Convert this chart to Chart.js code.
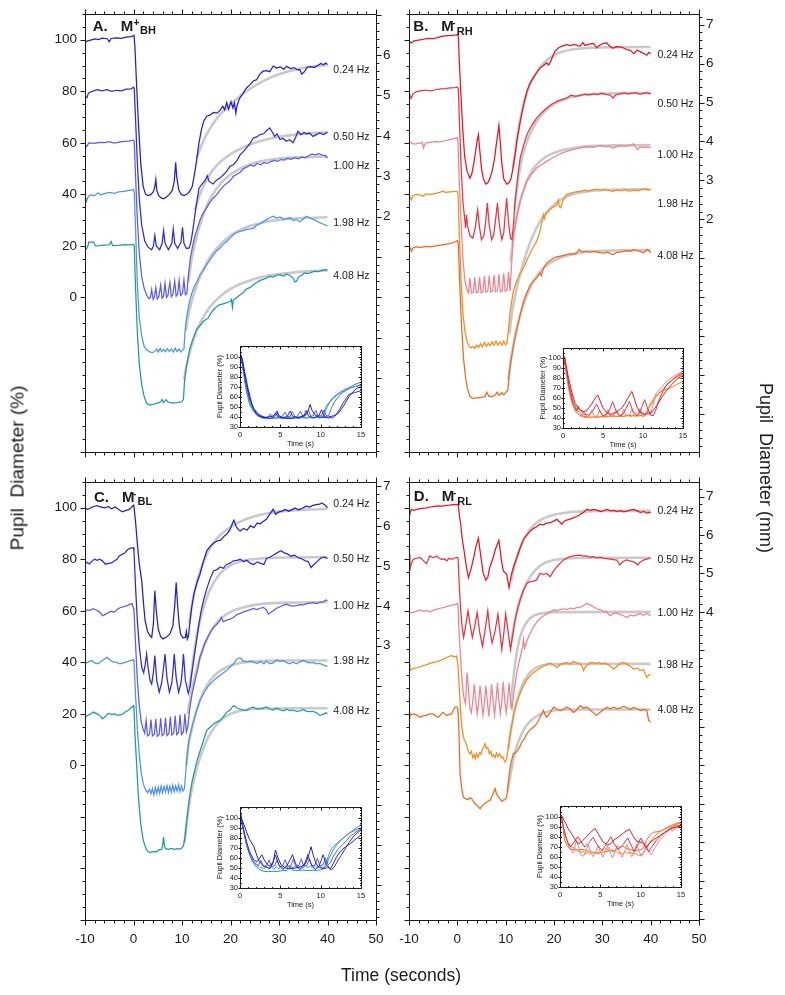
<!DOCTYPE html>
<html>
<head>
<meta charset="utf-8">
<script src="https://cdn.jsdelivr.net/npm/chart.js@4.4.1/dist/chart.umd.min.js"></script>
<style>
  body { margin: 0; background: #fff; }
  #page { position: relative; width: 785px; height: 995px; overflow: hidden;
          font-family: "Liberation Sans", Arial, sans-serif; color: #1a1a1a; }
  #page canvas { position: absolute; left: 0; top: 0; }
  .big { position: absolute; font-size: 18px; line-height: 1; white-space: pre; }
</style>
</head>
<body>
<div id="page">
  <canvas id="cA" width="785" height="995"></canvas>
  <canvas id="cB" width="785" height="995"></canvas>
  <canvas id="cC" width="785" height="995"></canvas>
  <canvas id="cD" width="785" height="995"></canvas>
  <canvas id="iA" width="785" height="995"></canvas>
  <canvas id="iB" width="785" height="995"></canvas>
  <canvas id="iC" width="785" height="995"></canvas>
  <canvas id="iD" width="785" height="995"></canvas>
  <div class="big" style="left:17px;top:468px;font-size:19px;transform:translate(-50%,-50%) rotate(-90deg)">Pupil  Diameter (%)</div>
  <div class="big" style="left:766px;top:468px;transform:translate(-50%,-50%) rotate(90deg)">Pupil  Diameter (mm)</div>
  <div class="big" style="left:401px;top:976px;font-size:17.5px;transform:translate(-50%,-50%)">Time (seconds)</div>
</div>
<script>
const W = 785, H = 995;
const FONT = '"Liberation Sans", Arial, sans-serif';

/* ---------- axes / labels ---------- */
const freqs = ['0.24 Hz', '0.50 Hz', '1.00 Hz', '1.98 Hz', '4.08 Hz'];
const traceOffsets = [0, 20, 40, 60, 80];   // stacking shift of each trace in the big panels
const timeTicks = [-10, 0, 10, 20, 30, 40, 50];
const pctTicks = [-60, -40, -20, 0, 20, 40, 60, 80, 100];
const pctLabels = [0, 20, 40, 60, 80, 100];
const insetTimeTicks = [0, 5, 10, 15];
const insetPctTicks = [30, 40, 50, 60, 70, 80, 90, 100];

// mm of pupil per 100 % for each subject, and which mm ticks carry a number
const mmPer100 = { A: 6.38, B: 6.61, C: 6.46, D: 6.71 };
const mmLabelsA = [2, 3, 4, 5, 6];
const mmLabelsB = [2, 3, 4, 5, 6, 7];
const mmLabelsC = [3, 4, 5, 6, 7];
const mmLabelsD = [4, 5, 6, 7];

// where the frequency labels sit (% axis)
const labelYA = [88.2, 62.1, 50.9, 28.7, 8.3];
const labelYB = [94, 75.1, 55.4, 36.4, 15.9];
const labelYC = [101.3, 80, 62, 40.4, 21];
const labelYD = [98.7, 79.8, 59.1, 39.1, 21.6];

const blues = ['#2020cc', '#2b2bd8', '#5c5ce8', '#4d93ea', '#1c9aa2'];
const reds = ['#e8141f', '#e8343f', '#f2808e', '#f58c1a', '#f2661c'];
const fitColor = '#c9c9c9';

/* ---------- panel A : M+BH ---------- */
const A024 = [[-10,98.8],[-9.6,99.5],[-9,99.8],[-8,100.3],[-7.2,100.1],[-6.5,100.6],[-5.4,100.4],[-5,99.2],[-4.6,100.5],[-3.5,100.7],[-2.5,100.5],[-1.5,101],[-0.5,101.2],[0,101.5],[0.1,102],
  [0.3,97],[0.6,84],[1,68],[1.5,52],[2,43],[2.5,40],[3,39.5],[3.5,39.8],[4.1,41],[4.4,43],[4.6,45.8],[4.8,41.5],[5.2,39.5],[5.7,38.6],[6.2,38.3],[6.8,39],[7.4,40],[8,41.5],[8.4,45],[8.7,52.4],[8.9,47],[9.3,42],[9.8,40],[10.4,39.5],[11,40],[11.6,41.2],[12.1,43],[12.5,47],[13,53],[13.5,60],[14,65],[14.5,68.5],[15.1,70.3],[15.8,70.8],[16.5,71.8],[17.2,71.5],[17.8,72.5],[18.4,74.2],[18.8,72.8],[19.2,75.6],[19.6,73],[20.1,76],[20.5,73.5],[20.8,75.5],[21.1,71.5],[21.3,74],[21.8,77],[22.5,79],[23.3,81.3],[24,82.5],[24.7,84],[25.4,84.5],[26,86.5],[26.7,87.8],[27.4,88],[28.1,87.6],[28.8,89.8],[29.5,89],[30.2,89.5],[31,88.6],[31.6,89.7],[32.3,88.8],[33.1,89.2],[33.8,88.3],[34.3,88.4],[34.7,86.6],[35.2,87.5],[35.8,89.3],[36.5,89.6],[37.3,89.2],[38,90],[38.6,90.8],[39.2,90.3],[39.6,91],[40,90.4]];
const A050 = [[-10,78.1],[-9.6,77.5],[-9.3,79.3],[-8.5,80],[-7.5,80.6],[-6.5,80.2],[-5.5,80.6],[-4.5,80],[-3.5,80.4],[-2.5,80.2],[-1.5,80.8],[-0.5,80.9],[0,81.6],[0.15,81],
  [0.4,70],[0.8,52],[1.2,38],[1.7,28],[2.3,22],[3,19.5],[3.75,18.5],[4.1,20],[4.4,24],[4.7,20],[5.4,18.5],[5.9,21],[6.2,25.9],[6.5,21],[7.2,18.5],[7.9,21],[8.2,26.5],[8.5,21],[9.1,19],[9.8,21.5],[10.1,27.2],[10.4,21],[10.9,19],[11.5,19.2],[11.9,22],[12.3,27],[12.8,34],[13.5,42.4],[14.2,44.2],[14.8,45.5],[15.2,47.2],[15.6,45],[16.4,44],[17.1,45.5],[17.8,46.3],[18.5,47.5],[19.2,48.9],[19.9,50.9],[20.6,51.5],[21.3,53],[22,55.4],[22.6,56.5],[23.3,58],[24,59.7],[24.7,61.9],[25.4,62.3],[26.1,63.2],[26.8,63.5],[27.4,64.7],[28.1,65.8],[28.6,64.2],[29.1,62.5],[29.6,63.5],[30.2,61.3],[30.8,61.8],[31.5,60.6],[32.2,61.2],[32.9,60],[33.4,62],[33.9,64.5],[34.5,63.2],[35.2,64],[35.6,63.4],[36.3,63.8],[37,62.5],[37.7,63.2],[38.4,63.8],[39.2,63.2],[40,64.1]];
const A100 = [[-10,59.3],[-9.7,58.5],[-9.2,60],[-8,59.8],[-7,60.2],[-6,60.1],[-5,60.5],[-4,59.9],[-3,60.3],[-2,60.6],[-1,60.7],[0,61],[0.15,60.5],
  [0.4,48],[0.8,30],[1.2,17],[1.7,8],[2.2,3.5],[2.7,1],[3.2,-0.5],[3.5,0],[3.75,3],[4.05,-0.8],[4.3,0],[4.6,3.8],[4.9,-0.6],[5.2,0.2],[5.6,4.8],[5.9,-0.3],[6.2,0.5],[6.5,5.4],[6.8,0],[7.1,0.8],[7.5,5.8],[7.8,0.2],[8.1,1],[8.5,6.3],[8.8,0.5],[9.1,1.2],[9.4,6.6],[9.7,0.8],[10.1,1.5],[10.4,6.8],[10.7,1],[11,1.5],[11.3,8],[11.7,15],[12.2,20],[12.7,24],[13.2,27],[13.7,30],[14.3,32.5],[15,34.5],[15.6,36.5],[16.4,38.5],[17.2,40],[18,42],[18.7,43.5],[19.4,44.5],[20,45.5],[20.6,47],[21.3,47.8],[22,48.6],[22.7,50],[23.4,50.6],[24.1,51.4],[24.8,50.9],[25.5,52],[26.2,51.5],[26.9,52.3],[27.6,52],[28.3,52.7],[29,53.2],[29.7,52.8],[30.4,53.5],[31.1,53.3],[31.8,54],[32.5,53.6],[33.2,54.2],[34,53.8],[34.7,54.5],[35.4,54.2],[36.1,55],[36.8,55.6],[37.5,55.3],[38.2,55.8],[38.9,55.2],[39.5,55.1],[40,54.1]];
const A198 = [[-10,39.9],[-9.7,37.3],[-9.4,38.8],[-9,39.8],[-8,39.5],[-7.3,40.6],[-6.8,39.8],[-6,40.3],[-5,40.8],[-4,40.4],[-3,41],[-2,41.2],[-1,41.5],[0,41.8],[0.15,41],
  [0.4,28],[0.8,5],[1.2,-8],[1.7,-15],[2.2,-19],[2.7,-20.3],[3.2,-21],[3.8,-21.4],[4.4,-21],[4.8,-20],[5.1,-21.2],[5.5,-19.8],[5.8,-21],[6.2,-20.2],[6.6,-21.1],[7,-19.9],[7.4,-21],[7.8,-20],[8.2,-21.2],[8.6,-19.7],[9,-21],[9.4,-20],[9.8,-21.2],[10.2,-20.3],[10.4,-20],[10.6,-14],[10.8,-10],[11.1,-6],[11.5,-2],[12,1.5],[12.6,4.5],[13.1,6.2],[13.7,8.8],[14.4,10.5],[15.1,12.7],[15.8,14.7],[16.5,16.6],[17.1,18],[17.8,19.1],[18.5,20.6],[19.2,21.7],[19.9,23],[20.6,24.3],[21.3,25.2],[22,25.6],[22.7,26],[23.4,26.4],[24.1,26.6],[24.7,26.9],[25.4,28],[26.1,28.6],[26.7,29.4],[27.4,30.2],[28.1,30.9],[28.8,31.5],[29.5,30.8],[30.2,31.2],[30.9,30.3],[31.6,30.6],[32.3,30.9],[33,29.8],[33.6,30.3],[34.3,29.4],[35,30.4],[35.6,31.5],[36.3,30.9],[37,30.3],[37.7,29.8],[38.4,29],[39.2,28.4],[40,27.7]];
const A408 = [[-10,19.2],[-9.7,18.8],[-9.4,20],[-9.2,21.5],[-8.2,21.5],[-7.9,20],[-7,20.1],[-6,20.3],[-5,20.4],[-4.6,21.7],[-4.3,20.1],[-3,20.2],[-2,20.5],[-1,20.4],[0,20.6],[0.15,20],
  [0.4,5],[0.8,-14],[1.2,-26],[1.7,-34],[2.2,-38.5],[2.7,-41],[3.3,-41.8],[4,-41.5],[5,-41],[5.6,-40.5],[5.9,-39.6],[6.2,-40.8],[6.7,-39.7],[7.1,-40.6],[8,-41],[9,-40.8],[10,-40.5],[10.3,-39.5],[10.5,-33],[10.8,-28],[11.2,-24],[11.6,-20],[12.2,-16.5],[13,-12.5],[13.7,-11],[14.4,-9.3],[15,-8.5],[15.4,-8],[16,-6],[16.6,-4.5],[17.2,-3.5],[17.8,-2.8],[18.5,-2.5],[19.2,-2],[19.9,-1.6],[20.2,-0.8],[20.4,-3.8],[20.6,-1],[21.3,0],[22,1],[22.7,2],[23.4,3.4],[24,3.8],[24.7,4.9],[25.4,5.8],[26.1,6.6],[26.7,7],[27.4,7.5],[28.1,8.2],[28.8,7.9],[29.5,8.6],[30.2,8.8],[30.9,8.3],[31.6,9],[32.3,8.5],[32.9,7.5],[33.3,6],[33.6,6.2],[34,7.8],[34.6,8.6],[35.3,9.5],[36,9.2],[36.7,9.8],[37.4,10.2],[38.1,10],[38.8,10.5],[39.4,10.8],[40,10.6]];
const fitA024 = [[13,54],[14,59],[15,63],[16,66.3],[17,69],[18,71.3],[20,75],[22,78.2],[24,80.9],[26,83.2],[28,85.1],[30,86.6],[32,87.8],[34,88.7],[36,89.4],[38,89.9],[40,90.3]];
const fitA050 = [[12.7,34],[13.5,39],[14.5,43.5],[15.5,47],[16.5,49.8],[18,52.8],[20,55.6],[22,57.7],[24,59.3],[26,60.6],[28,61.6],[30,62.3],[32,62.9],[34,63.3],[37,63.8],[40,64.1]];
const fitA100 = [[11.3,6],[12,15],[13,23.5],[14,30],[15,35],[16,39],[18,44.3],[20,47.7],[22,50],[24,51.6],[26,52.7],[28,53.4],[30,53.9],[34,54.4],[40,54.7]];
const fitA198 = [[10.8,-13],[11.3,-7],[12,-1.5],[13,4.5],[14,9.2],[15,13],[16,16.2],[17,18.7],[18,20.8],[20,24],[22,26.2],[24,27.7],[26,28.8],[28,29.6],[30,30.1],[33,30.6],[36,30.9],[40,31.1]];
const fitA408 = [[10.4,-32],[11,-26],[12,-18.5],[13,-13],[14,-9],[15,-5.8],[16,-3.2],[18,0.6],[20,3.3],[22,5.2],[24,6.6],[26,7.7],[28,8.5],[30,9.1],[33,9.7],[36,10.1],[40,10.5]];

/* ---------- panel B : M-RH ---------- */
const B024 = [[-10,99.5],[-9.7,99],[-9.4,98.8],[-9,99.6],[-8,99.9],[-7,100.2],[-6,100.5],[-5,100.4],[-4,100.9],[-3,101.4],[-2,101.6],[-1,101.7],[0,102],[0.2,101.5],
  [0.4,92],[0.7,80],[1.1,66],[1.5,55],[2,49],[2.6,46.3],[3,48],[3.4,52],[3.8,57],[4.1,61],[4.35,63.2],[4.6,58],[5,50],[5.4,46],[5.9,44],[6.3,44.5],[6.7,46],[7.2,49],[7.7,54],[8.1,60],[8.4,64],[8.6,66.8],[8.9,60],[9.2,52],[9.6,46],[10.2,44],[10.7,44.5],[11.1,46],[11.5,50],[12,56],[12.3,60.6],[12.8,66],[13.3,71],[13.8,75.5],[14.4,80],[15,83],[15.7,85.2],[16.4,87.2],[17.1,89],[17.8,90],[18.5,91],[18.9,90.2],[19.3,91.5],[19.7,93.5],[20.2,95.5],[21,97],[21.8,97.6],[22.6,98.1],[23.4,97.7],[24.2,98.2],[25,97.6],[25.4,97.5],[26,98.9],[26.4,97.8],[27.5,98.4],[28.2,98.6],[28.8,96.9],[29.5,98],[30.2,98.6],[30.9,98.8],[31.5,97.6],[32.2,96.7],[32.9,97.3],[33.6,97.2],[34.3,96.9],[35.1,96.2],[35.8,95.9],[36.5,94.6],[37.2,96],[37.9,95.3],[38.5,94.7],[39.2,94],[39.6,95.1],[40,94.6]];
const B050 = [[-10,79],[-9.8,78],[-9.5,77.4],[-9.2,79],[-8.5,79.8],[-7.5,80.3],[-6.5,80.5],[-5.5,80.2],[-4.5,80.6],[-3.5,80.9],[-2.5,81],[-1.5,81.3],[-0.5,81.4],[0,81.6],[0.2,81],
  [0.4,70],[0.8,50],[1.2,36],[1.5,31],[1.7,27],[1.9,32],[2.1,28],[2.6,24],[3.2,23],[3.7,27],[4.2,34],[4.6,27],[5,22.4],[5.5,24],[5.9,30],[6.2,36.6],[6.6,28],[7.1,22.4],[7.5,24],[7.9,30],[8.3,36.6],[8.7,28],[9.2,22.4],[9.6,25],[9.9,32],[10.2,38.6],[10.6,29],[11,23],[11.3,22.4],[11.6,28],[11.95,37.3],[12.5,47],[13,54.1],[13.7,59],[14.4,63.2],[15.4,66.8],[16.4,69.6],[17.5,71.8],[18.5,73.5],[19.5,75],[20.6,76.1],[21.6,76.8],[22.6,77.4],[23.5,78.5],[24.5,78],[25.4,78.4],[26.3,78.9],[27.2,78.6],[28.2,79],[29,78.7],[29.8,79.3],[30.9,78.7],[31.6,78.5],[32.2,77.4],[32.8,78.6],[33.6,79],[34.5,79.4],[35.3,79],[36.2,79.3],[37,79.5],[37.8,78.8],[38.6,79.3],[39.3,79.5],[40,79]];
const B100 = [[-10,60.5],[-9.5,60],[-9,59.5],[-8,59.8],[-7.3,60.2],[-7,58],[-6.8,59.2],[-6.4,60],[-5.5,60.3],[-4.5,60.5],[-3.5,60.4],[-2.5,60.9],[-1.5,61.2],[-1,61.5],[-0.5,61.7],[0,62],[0.15,60],
  [0.4,45],[0.8,28],[1.2,14],[1.6,6],[2,3],[2.3,1.8],[2.6,7.5],[2.9,1.7],[3.3,2],[3.6,7.8],[3.9,1.8],[4.3,2.2],[4.6,8],[4.9,1.8],[5.3,2.2],[5.6,8.3],[5.9,2],[6.3,2.4],[6.6,8.5],[6.9,2],[7.3,2.4],[7.6,8.8],[7.9,2.2],[8.3,2.6],[8.6,9],[8.9,2.3],[9.3,2.6],[9.6,9.4],[9.9,2.4],[10.3,3],[10.6,9.8],[10.9,2.5],[11.2,12],[11.6,24.3],[12.3,31],[13,37.3],[13.7,41.5],[14.4,45],[15.4,48],[16.4,50.2],[17.5,51.6],[18.5,52.8],[19.5,54],[20.6,55.1],[21.6,56],[22.6,56.7],[23.5,57.2],[24.5,57.6],[25.4,58],[26.3,58.3],[27.2,58.5],[28.1,58.2],[28.8,58.6],[29.6,59],[30.5,58.4],[31.3,58.8],[32.2,58],[33,58.5],[33.9,58.9],[34.7,58.6],[35.5,59],[36.1,59.3],[36.5,59.6],[36.9,58.3],[37.3,57.4],[37.8,58.4],[38.5,58.1],[39.2,58.4],[40,58]];
const B198 = [[-10,40],[-9.7,38.5],[-9.5,37.8],[-9.2,39.5],[-8.5,40],[-7.8,39.8],[-7,39.3],[-6.6,40.2],[-5.5,40],[-4.5,40.4],[-3.5,40.9],[-3,41.3],[-2.5,40.8],[-1.5,41],[-0.5,41.2],[0,41],[0.15,40],
  [0.4,25],[0.8,5],[1.2,-7],[1.6,-13.5],[2,-17],[2.4,-18.8],[2.8,-19.6],[3.2,-19],[3.6,-19.8],[4,-18.5],[4.4,-19.4],[4.8,-18],[5.2,-19.2],[5.6,-17.5],[6,-19],[6.4,-17.8],[6.8,-18.8],[7.2,-17.2],[7.6,-18.6],[8,-17],[8.4,-18.5],[8.8,-17.2],[9.2,-18.6],[9.6,-17],[10,-18.4],[10.3,-17.5],[10.6,-12],[10.9,-6],[11.2,-2],[11.6,2.5],[12.2,6],[12.9,9],[13.7,11.4],[14.5,15],[15.4,18.5],[16.4,21.7],[17,25],[17.5,29],[17.8,32.1],[18,30.5],[18.3,32.5],[18.7,33],[19.1,34],[19.8,35],[20.3,35.5],[20.6,36],[20.9,37.8],[21.1,35.2],[21.4,34.8],[21.8,37.5],[22.6,39.9],[23.5,40.5],[24.5,41],[25.4,41.2],[26.3,41.6],[27.2,41.3],[28.1,41.8],[28.8,42],[29.6,41.6],[30.5,41.9],[31.3,41.5],[32.2,41.2],[33,41.7],[33.9,41.4],[34.7,41.9],[35.5,41.3],[36.5,41.6],[37.3,41.4],[38.2,41.9],[39,42.1],[39.6,41.6],[40,42]];
const B408 = [[-10,20],[-9.7,19],[-9.5,17.9],[-9.2,19.2],[-8.5,19.6],[-7.5,19.4],[-6.5,19.8],[-5.5,19.6],[-4.5,20],[-3.5,20.3],[-2.5,20.6],[-1.5,20.9],[-0.5,21.5],[0,22],[0.2,21],
  [0.5,5],[0.9,-12],[1.3,-24],[1.7,-31],[2.1,-35.5],[2.6,-38.4],[3.2,-39.2],[4,-39],[5,-38.8],[5.7,-38.5],[6.1,-36.8],[6.5,-38.3],[7.2,-38.5],[7.8,-38],[8.2,-36.8],[8.6,-38],[9.2,-37],[9.6,-37.8],[10.2,-36.5],[10.45,-36],[10.7,-30],[11,-26],[11.5,-20],[12,-15],[12.6,-10],[13.2,-5],[13.7,-1.6],[14.3,1.5],[15,4.5],[15.7,6.3],[16.4,7.5],[17.1,9.5],[17.4,8.5],[17.8,11.4],[18.5,13.3],[19.2,14.3],[19.9,15.3],[20.6,15.7],[21.3,16],[22,16.3],[22.6,16.6],[23.6,17],[24.3,16.8],[24.7,17.3],[25.2,18.6],[25.8,17.6],[26.6,18],[27.4,17.6],[28.1,17.9],[28.8,17.7],[29.5,17.4],[30.3,17.2],[31.1,17.6],[31.8,16.8],[32.3,16.6],[32.9,17.5],[33.6,17.6],[34.4,17.9],[35.2,18.2],[36,18],[36.5,18.6],[37.2,18.2],[37.9,17.8],[38.5,17.3],[39.2,18.6],[39.6,18.2],[40,17.3]];
const fitB024 = [[11.5,50],[12,57],[12.5,63.5],[13,69],[14,77],[15,82.5],[16,86.3],[17,89],[18,91.2],[20,94],[22,95.5],[25,96.5],[28,96.9],[32,97.1],[40,97.2]];
const fitB050 = [[11.8,34],[12.3,42],[12.8,48.5],[13.5,55],[14.5,61],[15.5,65.3],[16.5,68.5],[18,72],[20,75],[22,76.8],[25,78.3],[28,78.9],[32,79.2],[40,79.3]];
const fitB100 = [[11,14],[11.5,22],[12,29],[13,37.5],[14,43.5],[15,47.7],[16,50.7],[18,54.2],[20,56.1],[22,57.3],[25,58.3],[28,58.8],[32,59],[40,59.1]];
const fitB198 = [[10.8,-14],[11.3,-6],[12,1],[13,9],[14,15.5],[15,21],[16,25.5],[17,29],[18,32],[20,36],[22,38.6],[25,40.6],[28,41.4],[32,41.8],[40,42]];
const fitB408 = [[10.6,-32],[11,-25],[11.5,-19.5],[12,-14.5],[13,-7],[14,-1],[15,3.5],[16,7],[17,9.6],[18,11.6],[20,14.3],[22,15.9],[25,17.2],[28,17.9],[32,18.2],[40,18.4]];

/* ---------- panel C : M-BL ---------- */
const C024 = [[-10,100],[-9.5,99.4],[-9,99.7],[-8.3,100.5],[-7.5,100.8],[-7,100.4],[-6,100],[-5.2,100.4],[-4.5,99.6],[-3.8,100.3],[-3,99.2],[-2.3,98.4],[-1.7,98.9],[-1,99.3],[-0.5,100],[0,101],[0.1,100.4],
  [0.4,95],[0.8,86],[1.2,78],[1.7,71.6],[2.1,62],[2.4,56.1],[2.9,52],[3.4,50.3],[3.75,49.7],[4.1,55],[4.4,67.8],[4.7,60],[5.1,53],[5.6,50],[6.1,49.1],[6.8,49.8],[7.5,51],[8.1,54],[8.5,62],[8.8,71],[9.1,62],[9.4,55],[9.7,51],[10.2,49.5],[10.7,49.7],[10.9,52],[11.1,49],[11.3,50],[11.6,55],[12,61.3],[12.5,67],[13.1,71],[13.7,74.2],[14.4,79],[15.1,83.3],[15.8,85],[16.5,86.2],[17.2,87.1],[17.9,87.3],[18.6,88.8],[19.2,89.7],[19.9,91.5],[20.4,94],[20.7,95.2],[21.1,93],[21.6,91.5],[22,91],[22.7,92],[23.4,91.3],[24.1,93],[24.8,92.3],[25.5,94],[26.1,93.8],[26.8,94.8],[27.4,95.5],[28.1,97.5],[28.8,99.4],[29.3,97.5],[29.9,98.3],[30.6,98.7],[31.3,99.3],[32,98.6],[32.6,99.2],[33.3,99.9],[34,99.2],[34.7,99.7],[35.6,100.6],[36.3,100.3],[37,100.9],[37.7,101.2],[38.4,101.4],[38.8,101.9],[39.4,101.2],[40,100]];
const C050 = [[-10,79.4],[-9.6,78.7],[-9.1,78.2],[-8.6,79.2],[-8,80],[-7.5,79.6],[-7,80],[-6.4,79.4],[-5.8,78.1],[-5.2,78.4],[-4.5,78.6],[-3.9,79.4],[-3.4,80],[-3,81.2],[-2.4,81.9],[-1.8,82.4],[-1.2,83.8],[-0.6,84.3],[0,84.5],[0.1,83],
  [0.4,70],[0.8,56],[1.2,46],[1.7,38],[2.1,36],[2.4,39],[2.7,43.2],[3,38],[3.4,33],[3.75,31.6],[4.1,36],[4.4,42.6],[4.8,33],[5.3,28.4],[5.8,32],[6.2,38],[6.5,43.2],[6.9,34],[7.4,28.4],[7.9,32],[8.2,38],[8.4,43.2],[8.8,34],[9.3,28.4],[9.8,32],[10.1,38],[10.3,43.2],[10.7,33],[11.3,27.9],[11.7,31],[12,35.5],[12.5,42],[13,48.4],[13.5,55],[14,60.5],[14.5,64.5],[15.1,68.5],[15.8,72.5],[16.5,75.5],[17.2,76],[17.9,77],[18.5,76.5],[19.2,78],[19.9,78.5],[20.6,79.4],[21.3,79.6],[22,80],[22.7,79.1],[23.4,79.6],[24.1,78.4],[24.8,78],[25.5,79],[26.2,78.4],[26.9,78],[27.4,80.3],[28.1,80.8],[28.8,81.6],[29.5,82.4],[30.4,83.3],[31.1,82.5],[31.8,82],[32.5,81.2],[33.2,81.6],[34,80.6],[34.7,80.2],[35.4,79.4],[36,79.2],[36.6,76.8],[37.2,78],[38,79.4],[38.7,80.6],[39.4,80.8],[40,80.3]];
const C100 = [[-10,60],[-9.5,60.4],[-9,60.2],[-8.3,60.8],[-7.7,60.3],[-7,59.6],[-6.4,58.1],[-5.8,58.6],[-5.2,59.3],[-4.6,59.9],[-4,59.4],[-3.3,60.6],[-2.7,61.3],[-2,61.6],[-1.3,62],[-0.7,62.6],[-0.3,62.8],[0,61],[0.1,60],
  [0.4,48],[0.8,33],[1.2,23],[1.6,17],[2,14],[2.3,12.5],[2.6,17.5],[2.9,11.5],[3.3,12],[3.6,17.8],[3.9,11.5],[4.3,12],[4.6,18],[4.9,11.3],[5.3,12],[5.6,18.3],[5.9,11.5],[6.3,12.2],[6.6,18.5],[6.9,11.6],[7.3,12.4],[7.6,19],[7.9,11.8],[8.3,12.6],[8.6,19.3],[8.9,12],[9.3,12.8],[9.6,19.6],[9.9,12],[10.3,13],[10.6,20],[10.9,13],[11.2,15],[11.6,22],[12.1,28],[12.7,33],[13.2,37],[13.7,42],[14.1,44],[14.6,47],[15.1,49],[15.8,51.5],[16.5,53.6],[17.2,54.8],[17.8,56.1],[18.1,57.5],[18.5,55.8],[19.2,56.4],[19.9,56.8],[20.6,57.4],[21.3,58.5],[22,59],[22.7,59.6],[23.3,60],[24,60.4],[24.7,60.9],[25.4,60.5],[26.1,61],[26.8,61.3],[27.4,60.4],[27.8,58.7],[28.4,59.5],[28.8,60],[29.5,61],[30.2,61.6],[30.9,62.2],[31.6,62.6],[32.2,62],[32.9,61.8],[33.6,62],[34.3,62.4],[35,62.3],[35.6,62.7],[36.3,63],[37,63.2],[37.7,62.8],[38.4,63.3],[39.1,63.5],[39.7,64.2],[40,63.9]];
const C198 = [[-10,39.4],[-9.4,40.1],[-8.6,40.7],[-8,39.8],[-7.3,39.4],[-6.6,40.5],[-6,41.2],[-5.5,42],[-5,41.2],[-4.3,40.2],[-3.6,40.1],[-2.8,39.4],[-2.1,39.8],[-1.4,40.2],[-0.7,40.7],[0,41],[0.1,40],
  [0.4,28],[0.8,14],[1.2,4],[1.6,-3],[2,-7],[2.5,-9.5],[2.9,-10.6],[3.3,-9.2],[3.6,-11],[3.9,-9],[4.2,-11.5],[4.5,-8.6],[4.8,-11],[5.1,-8.4],[5.4,-10.8],[5.7,-8],[6,-10.6],[6.3,-8.2],[6.6,-10.2],[6.9,-7.8],[7.2,-10.5],[7.5,-8.1],[7.8,-10.4],[8.1,-7.6],[8.4,-10.2],[8.7,-7.9],[9,-10],[9.3,-7.5],[9.6,-10.2],[9.9,-8],[10.2,-10],[10.5,-9],[10.8,-2],[11.1,5],[11.4,9.7],[12,14.5],[12.8,20],[13.7,25.2],[14.6,28.5],[15.5,31],[16.5,32.9],[17.5,34.5],[18.3,35.6],[19.2,36.8],[19.9,38.2],[20.6,39.4],[21.3,41.3],[22,41.7],[22.7,40.5],[23.4,40.2],[24.1,40.5],[24.8,40],[25.5,39.6],[26.2,40.3],[26.9,39.4],[27.4,40.5],[28.1,39.4],[28.8,39.8],[29.5,41],[30.2,40.4],[30.9,40.7],[31.6,39.9],[32.2,39.4],[32.9,40.1],[33.6,39.4],[34.3,40.2],[35,40.7],[35.6,40.2],[36.3,39.8],[37,40],[37.7,39.4],[38.4,39.6],[39.1,39],[39.7,38.6],[40,38.4]];
const C408 = [[-10,18.7],[-9.5,19.4],[-9,19.8],[-8.3,20.7],[-7.7,20.2],[-7,19.4],[-6.4,18.1],[-5.8,19],[-5.2,20.2],[-4.5,19.8],[-3.8,20],[-3.2,19.4],[-2.5,19.7],[-1.7,20.7],[-1,21.5],[-0.4,22.6],[0,23.2],[0.1,22],
  [0.3,12],[0.6,2],[1,-12],[1.5,-23],[2,-29],[2.5,-32],[3,-33.5],[3.5,-33.8],[4,-33.4],[4.6,-33.6],[5.2,-32.8],[5.8,-32.6],[6.05,-30.5],[6.2,-27.8],[6.35,-31],[6.6,-32.3],[7.2,-32.6],[7.8,-32.2],[8.4,-32.6],[9,-32.3],[9.6,-32.5],[10,-32],[10.3,-31.2],[10.6,-28],[11,-21],[11.5,-13],[12,-7],[12.6,-2],[13.2,2.5],[13.8,6],[14.4,9.5],[15.1,13.6],[15.8,14.8],[16.5,16.1],[17.1,16.8],[17.8,17.4],[18.5,18.8],[19.2,20.6],[19.9,21.5],[20.4,22.7],[20.7,23.2],[21.3,22.4],[22,21.8],[22.7,21.5],[23.3,21.3],[24,22.2],[24.7,22.6],[25.4,22],[26.1,21.9],[26.8,22.3],[27.4,22.7],[28.1,21.9],[28.8,21.5],[29.5,22.2],[30.2,21.6],[30.9,21.2],[31.6,21.8],[32.2,21.3],[32.9,21.5],[33.6,21],[34.3,21.2],[35,21.7],[35.6,21.1],[36.3,20.9],[37,21],[37.7,20.4],[38.4,19.4],[39.1,19.8],[39.7,20.4],[40,20]];
const fitC024 = [[11.5,55],[12,62],[13,70.5],[14,77],[15,81.5],[16,85],[17,87.6],[18,89.6],[20,92.5],[22,94.6],[25,96.7],[28,98],[32,98.9],[36,99.3],[40,99.5]];
const fitC050 = [[11.5,30],[12,37],[12.5,44],[13,50],[14,58.5],[15,64.5],[16,69],[17,72.3],[18,74.7],[20,77.6],[22,79.1],[25,80.1],[28,80.5],[32,80.7],[40,80.8]];
const fitC100 = [[11.2,20],[11.6,25],[12,29],[13,37],[14,43.5],[15,48.5],[16,52.3],[17,55],[18,57],[20,59.6],[22,61],[25,62.3],[28,62.9],[32,63.2],[40,63.4]];
const fitC198 = [[10.9,0],[11.3,7],[12,14],[13,21.3],[14,26.7],[15,30.6],[16,33.4],[17,35.4],[18,36.9],[20,38.8],[22,39.8],[25,40.4],[28,40.6],[32,40.7],[40,40.7]];
const fitC408 = [[10.5,-30],[11,-22],[11.5,-15],[12,-9.5],[13,-1.5],[14,4.5],[15,9.3],[16,12.8],[17,15.5],[18,17.5],[20,20],[22,21.2],[25,21.9],[28,22.1],[32,22.2],[40,22.2]];

/* ---------- panel D : M-RL ---------- */
const D024 = [[-10,98.7],[-9.8,98],[-9.5,99.4],[-9,99],[-8.2,99.5],[-7.3,99.8],[-6.5,99.9],[-5.6,100.3],[-4.8,100.5],[-4,100.7],[-3.2,100.6],[-2.4,100.9],[-1.6,101],[-0.8,101.2],[0,101.3],[0.2,101],
  [0.5,96],[0.7,93.6],[1,88],[1.4,83.3],[1.9,76.8],[2.3,72.9],[2.8,76],[3.3,80],[3.8,84.5],[4.35,88.2],[4.8,82],[5.3,75],[5.9,71.9],[6.3,73],[6.7,76.8],[7.3,80],[7.9,84],[8.6,87.4],[9.1,80],[9.5,75.5],[10.2,74.2],[10.7,69],[11.2,74.2],[11.7,77.5],[12.3,80.6],[13,84.5],[13.7,87.8],[14.4,89.5],[15.1,91],[15.8,92],[16.4,92.6],[17.1,93.6],[17.8,93.4],[18.5,94],[19.2,94.2],[19.9,94.8],[20.6,95.5],[21.1,94.6],[21.6,93.6],[22.1,94.8],[22.6,95.2],[23.3,95.6],[24,96.1],[24.7,96.6],[25.4,97.4],[26.1,98.2],[26.8,99.4],[27.5,99],[28.2,99.4],[28.9,99.1],[29.6,98.5],[30.3,98.9],[31,99.4],[31.7,98.8],[32.4,99],[33.1,98.5],[33.8,98.9],[34.4,98.4],[35.1,98.7],[35.8,99.1],[36.5,99.4],[37.2,98.8],[37.9,98.1],[38.6,98.6],[39.2,97.9],[39.6,98.2],[40,98.1]];
const D050 = [[-10,81.9],[-9.8,76.1],[-9.5,78.5],[-9.1,80],[-8.4,80.4],[-7.7,80.7],[-7.1,79.6],[-6.4,78.3],[-6.1,79.5],[-5.7,81.3],[-5,80.6],[-4.3,81.3],[-3.8,80.5],[-3.3,80],[-2.7,80.2],[-2.2,79.4],[-1.7,80.4],[-1.2,80],[-0.6,80.5],[-0.1,80.7],[0.15,80.5],
  [0.4,70],[0.7,60],[1,53.6],[1.3,49.7],[1.7,54],[2.2,60],[2.6,55],[3.1,49.7],[3.6,54],[4.1,59.4],[4.6,52],[5.2,46.2],[5.7,52],[6.3,60],[6.7,53],[7.2,47.5],[7.8,52],[8.4,58.7],[8.8,52],[9.2,45],[9.6,51],[10,58.7],[10.5,52],[11,45],[11.4,50],[12,57],[12.5,61],[13,64.3],[13.7,68],[14.4,70.7],[15.1,71.3],[15.8,71.5],[16.4,72],[17.1,74.5],[17.8,74.2],[18.5,74.5],[19.2,73.2],[19.9,75.5],[20.6,77.1],[21.3,78.5],[22,79.7],[22.7,80.5],[23.3,81],[24,81.3],[24.7,81.5],[25.4,81.6],[26.1,81.2],[26.8,81.3],[27.5,80.8],[28.2,81],[28.9,80.6],[29.6,80.8],[30.3,80.4],[30.9,80.3],[31.6,80.1],[32.3,79.9],[33,79.7],[33.6,77.8],[34.2,79],[35,79.8],[35.7,79.4],[36.5,79],[37,78.4],[37.3,77.8],[37.8,78.9],[38.5,79.7],[39.2,80.1],[40,80.6]];
const D100 = [[-10,59.7],[-9.5,59.2],[-9,59.5],[-8.3,60],[-7.7,60.3],[-7,59.8],[-6.4,60.2],[-5.7,59.5],[-5,60.2],[-4.3,60.6],[-3.6,61],[-2.9,61.2],[-2.2,61.6],[-1.5,62],[-0.8,62.3],[-0.3,62.6],[0,62.9],[0.15,61.5],
  [0.4,50],[0.8,38],[1.1,30],[1.4,26],[1.7,24],[2,36],[2.3,30],[2.6,22],[2.9,20.5],[3.2,25],[3.5,31.5],[3.8,25],[4.1,20],[4.4,24.5],[4.7,31],[5,25],[5.3,19.5],[5.6,24.5],[5.9,31],[6.2,25],[6.5,19],[6.8,24.5],[7.1,31.5],[7.4,25],[7.7,19.5],[8,25],[8.3,32],[8.6,25],[8.9,20],[9.2,25],[9.5,32.5],[9.8,25.5],[10.1,20.5],[10.4,25],[10.7,32],[11,25],[11.3,22],[11.7,28],[12.3,36],[13,42],[13.5,46],[13.7,49],[13.9,45.5],[14.4,48.4],[15,51],[15.7,53.6],[16.4,55.5],[17.1,57],[17.8,58],[18.5,58.8],[19.2,59.5],[19.9,60.4],[20.6,60.1],[21.3,60.6],[22,60.8],[22.7,60.5],[23.4,61],[24,60.8],[24.7,61.2],[25.4,61.4],[26.1,62],[26.8,62.9],[27.5,62.3],[28.2,61.5],[28.9,60.8],[29.6,60.4],[30.3,59.7],[30.9,59.8],[31.3,58.6],[31.6,58.1],[32.2,58.9],[32.9,59.2],[33.6,58.6],[34.3,58.2],[35.1,57.4],[35.8,58.4],[36.5,58],[37.2,58.6],[37.9,58.9],[38.5,58.3],[39.2,59],[39.6,58.6],[40,58.1]];
const D198 = [[-10,39.4],[-9.8,36.8],[-9.4,37.4],[-8.8,37.8],[-8.2,38],[-7.7,38.3],[-7,38.8],[-6.4,39],[-5.7,39.6],[-5,40],[-4.3,40.2],[-3.6,40.7],[-2.9,41.2],[-2.2,41.9],[-1.7,42.3],[-1.2,42.6],[-0.6,42.1],[-0.2,42.5],[0,40.7],[0.15,38],
  [0.4,30],[0.7,20],[1,14],[1.4,10],[1.8,8.5],[2.2,6],[2.6,4.5],[2.9,5.5],[3.2,3],[3.5,4.2],[3.7,2.6],[4,4.5],[4.3,3.2],[4.6,5],[4.9,4.3],[5.2,6.5],[5.5,7],[5.7,8.4],[6,6.5],[6.3,7],[6.6,4.5],[6.9,5.5],[7.2,3.5],[7.5,4.2],[7.8,3],[8.1,4.8],[8.4,3.5],[8.8,4.5],[9.1,3],[9.4,3.4],[9.7,1.8],[9.9,1.3],[10.2,2.6],[10.4,5],[10.7,9],[11,13],[11.4,17],[11.7,20.4],[12.3,24.5],[13,28.1],[13.7,31],[14.4,33.3],[15,34.6],[15.7,35.9],[16.4,36.8],[17.1,37.7],[17.8,38.5],[18.5,39.2],[19.2,39.7],[19.9,39],[20.6,38],[21.3,39.2],[22,39.6],[22.6,40],[23.3,39.3],[24,40.3],[24.7,39.8],[25.4,39.4],[25.8,38.5],[26.1,36.8],[26.5,38.2],[27.1,39.4],[27.8,40],[28.5,39.6],[29.2,40],[29.9,39.4],[30.6,39.7],[31.3,39],[31.9,38.2],[32.4,37.4],[33,38.5],[33.7,39.5],[34.4,40],[35.1,39.3],[35.8,38.4],[36.5,37.4],[37.2,37.8],[37.8,36.8],[38.5,37.2],[38.9,35.5],[39.2,34.2],[39.6,35],[40,35.5]];
const D408 = [[-10,20.6],[-9.8,19.4],[-9.4,19.8],[-9,20],[-8.4,19.5],[-7.7,18.7],[-7.1,19.2],[-6.4,19.4],[-5.7,20],[-5,20],[-4.5,19.3],[-4,18.7],[-3.5,19.5],[-3,20.6],[-2.6,20],[-2.2,19.4],[-1.7,19.8],[-1.2,20],[-0.8,21.5],[-0.5,22.6],[-0.1,22.6],[0.1,22],
  [0.3,15],[0.56,-3.2],[0.9,-9],[1.25,-12.3],[1.8,-13],[2.27,-13.3],[2.6,-12.6],[2.96,-12.9],[3.3,-14],[3.65,-14.8],[4.2,-15.8],[4.7,-16.8],[5.2,-15.5],[5.7,-14.8],[6.2,-14],[6.75,-13.6],[7.3,-11.5],[7.8,-9],[8.1,-11],[8.5,-12.3],[8.9,-13.2],[9.2,-13.9],[9.6,-13.4],[9.9,-13.3],[10.2,-12.2],[10.4,-9.7],[10.7,-4],[11,0],[11.3,2.5],[11.6,4.5],[12,4.8],[12.5,5.8],[13,7.5],[13.3,9],[13.9,10.5],[14.4,12.3],[15,13.8],[15.7,14.8],[16.4,16.1],[17.1,18.7],[17.8,21.3],[18.2,19.5],[18.5,18.7],[19.2,20.5],[19.9,22.6],[20.6,21.8],[21.3,21.3],[22,21.9],[22.6,22.6],[23.3,22],[24,20.6],[24.7,21.5],[25.4,23.2],[26.1,22.3],[26.8,22.6],[27.5,21.5],[28.2,20.3],[28.8,19.4],[29.5,20.5],[30.2,21.6],[30.9,22.6],[31.6,22],[32.4,22.6],[33.1,22],[33.8,22.3],[34.4,23],[35.1,22.4],[35.8,21.8],[36.5,22.5],[37.2,22],[37.9,21.3],[38.6,21.7],[39.2,21.3],[39.6,17.4],[40,16.8]];
const fitD024 = [[11.2,72],[11.7,76.5],[12.3,80.5],[13,84.5],[14,88.5],[15,91.5],[16,93.5],[17,95],[18,96],[20,97.3],[22,98],[25,98.5],[28,98.7],[40,98.8]];
const fitD050 = [[11,46],[11.5,52],[12,57],[12.5,61],[13,64.5],[14,69.5],[15,73],[16,75.5],[17,77.3],[18,78.5],[20,79.7],[22,80.2],[25,80.5],[40,80.6]];
const fitD100 = [[11,22],[11.5,32],[12,40],[12.5,46],[13,50],[14,54.5],[15,57],[16,58.3],[18,59.2],[20,59.5],[40,59.6]];
const fitD198 = [[10.5,6],[11,12.5],[11.5,18],[12,22.5],[13,29],[14,33.3],[15,36],[16,37.6],[17,38.5],[18,39],[20,39.3],[25,39.4],[40,39.4]];
const fitD408 = [[10.4,-10],[11,-3.5],[11.5,1.5],[12,5.5],[13,11],[14,14.7],[15,17],[16,18.6],[17,19.7],[18,20.5],[20,21.3],[25,21.7],[40,21.7]];

/* ================================
   HELPERS
================================ */
function range(a, b, step) {
  const out = [];
  for (let v = a; v <= b + 1e-9; v += step) out.push(Math.round(v * 1000) / 1000);
  return out;
}
const pts = arr => arr.map(([x, y]) => ({ x, y }));

// frame, tick marks and text drawn on top of each chart
function decorations(cfg) {
  return {
    id: 'decor',
    beforeDraw(chart) {
      if (!cfg.fill) return;
      const a = chart.chartArea;
      chart.ctx.fillStyle = '#fff';
      chart.ctx.fillRect(a.left, a.top, a.right - a.left, a.bottom - a.top);
    },
    afterDraw(chart) {
      const { ctx, chartArea: a, scales } = chart;
      const px = v => Math.round(v) + 0.5;
      const L = px(a.left), R = px(a.right), T = px(a.top), B = px(a.bottom);
      ctx.save();
      ctx.strokeStyle = '#1a1a1a';
      ctx.lineWidth = 1;
      ctx.beginPath();
      ctx.rect(L, T, R - L, B - T);
      cfg.ticks.forEach(t => {
        const s = scales[t.scale];
        [[t.minor, t.len[1]], [t.major, t.len[0]]].forEach(([vals, len]) => {
          vals.filter(v => v >= s.min - 1e-6 && v <= s.max + 1e-6).forEach(v => {
            const p = px(s.getPixelForValue(v));
            if (t.edge === 'bottom') { ctx.moveTo(p, B); ctx.lineTo(p, B + len); }
            if (t.edge === 'top') { ctx.moveTo(p, T); ctx.lineTo(p, T - len); }
            if (t.edge === 'left') { ctx.moveTo(L, p); ctx.lineTo(L - len, p); }
            if (t.edge === 'right') { ctx.moveTo(R, p); ctx.lineTo(R + len, p); }
          });
        });
      });
      ctx.stroke();

      ctx.fillStyle = '#1a1a1a';
      if (cfg.freqLabels) {
        ctx.font = '10.5px ' + FONT;
        ctx.textBaseline = 'middle';
        ctx.textAlign = 'left';
        cfg.freqLabels.forEach((txt, i) => {
          ctx.fillText(txt, scales.x.getPixelForValue(cfg.labelX), scales.y.getPixelForValue(cfg.labelY[i]));
        });
      }
      if (cfg.title) {
        const t = cfg.title;
        const x0 = a.left + t.dx, y0 = a.top + t.dy;
        ctx.textBaseline = 'alphabetic';
        ctx.textAlign = 'left';
        ctx.font = 'bold 15px ' + FONT;
        ctx.fillText(t.letter, x0, y0);
        const mx = x0 + 28;
        ctx.fillText('M', mx, y0);
        const mEnd = mx + ctx.measureText('M').width;
        ctx.font = 'bold 10px ' + FONT;
        ctx.fillText(t.sup, t.sup === '+' ? mEnd + 0.3 : mEnd - 1.5, y0 - 5);
        ctx.font = 'bold 11px ' + FONT;
        ctx.fillText(t.sub, t.sup === '+' ? mEnd + 6.8 : mEnd + 3, y0 + 3.6);
      }
      if (cfg.insetTitles) {
        ctx.font = '7.5px ' + FONT;
        ctx.textAlign = 'center';
        ctx.textBaseline = 'middle';
        ctx.fillText('Time (s)', (a.left + a.right) / 2, a.bottom + 17);
        ctx.save();
        ctx.translate(a.left - 20.5, (a.top + a.bottom) / 2);
        ctx.rotate(-Math.PI / 2);
        ctx.fillText('Pupil Diameter (%)', 0, 0);
        ctx.restore();
      }
      ctx.restore();
    }
  };
}

/* ================================
   BIG PANELS
================================ */
function drawPanel(p) {
  const datasets = [];
  p.traces.forEach((tr, i) => datasets.push({
    data: pts(tr), borderColor: p.colors[i], borderWidth: 1.25,
    pointRadius: 0, tension: 0, order: 1
  }));
  p.fits.forEach(f => datasets.push({
    data: pts(f), borderColor: fitColor, borderWidth: 2.6,
    pointRadius: 0, cubicInterpolationMode: 'monotone', order: 2
  }));

  const a = p.area;
  const mmMin = -0.6 * p.mmPer100, mmMax = 1.1 * p.mmPer100;
  const mmMajor = range(Math.ceil(mmMin), Math.floor(mmMax), 1);
  const mmMinor = range(Math.ceil(mmMin * 5) / 5, mmMax, 0.2);
  const label = { color: '#1a1a1a', font: { size: 13.5 } };

  new Chart(document.getElementById(p.canvas), {
    type: 'line',
    data: { datasets },
    options: {
      responsive: false, animation: false, events: [],
      layout: { padding: { left: a.left - 40, top: a.top - 10, right: W - a.right - 32, bottom: H - a.bottom - 30 } },
      plugins: { legend: { display: false }, tooltip: { enabled: false } },
      scales: {
        x: {
          type: 'linear', position: 'bottom', min: -10, max: 50,
          afterBuildTicks: s => { s.ticks = timeTicks.map(v => ({ value: v })); },
          afterFit: s => { s.height = 30; },
          grid: { display: false, tickLength: 5 }, border: { display: false },
          ticks: { ...label, display: p.xLabels, padding: 6, maxRotation: 0, autoSkip: false, callback: v => String(v) }
        },
        xTop: {
          type: 'linear', axis: 'x', position: 'top', min: -10, max: 50,
          afterFit: s => { s.height = 10; },
          grid: { display: false }, border: { display: false }, ticks: { display: false }
        },
        y: {
          type: 'linear', position: 'left', min: -60, max: 110,
          afterBuildTicks: s => { s.ticks = pctTicks.map(v => ({ value: v })); },
          afterFit: s => { s.width = 40; },
          grid: { display: false, tickLength: 5 }, border: { display: false },
          ticks: { ...label, display: p.yLabels, padding: 3, autoSkip: false,
                   callback: v => pctLabels.includes(v) ? String(v) : '' }
        },
        mm: {
          type: 'linear', axis: 'y', position: 'right', min: mmMin, max: mmMax,
          afterBuildTicks: s => { s.ticks = mmMajor.map(v => ({ value: v })); },
          afterFit: s => { s.width = 32; },
          grid: { display: false, tickLength: 5 }, border: { display: false },
          ticks: { ...label, padding: 2, autoSkip: false,
                   callback: v => p.mmLabels.includes(v) ? String(v) : '' }
        }
      }
    },
    plugins: [decorations({
      ticks: [
        { scale: 'x', edge: 'bottom', major: timeTicks, minor: range(-10, 50, 2), len: [5, 3] },
        { scale: 'x', edge: 'top', major: timeTicks, minor: range(-10, 50, 2), len: [5, 3] },
        { scale: 'y', edge: 'left', major: pctTicks, minor: range(-60, 110, 5), len: [5, 3] },
        { scale: 'mm', edge: 'right', major: mmMajor, minor: mmMinor, len: [5, 3] }
      ],
      freqLabels: freqs, labelX: p.labelX, labelY: p.labelY,
      title: p.title
    })]
  });
}

/* ================================
   INSETS (first 15 s, traces un-stacked)
================================ */
function drawInset(p) {
  const datasets = p.traces.map((tr, i) => ({
    data: pts(tr.filter(([t]) => t >= -0.5 && t <= 15.5).map(([t, v]) => [t, v + traceOffsets[i]])),
    borderColor: p.colors[i], borderWidth: 1, pointRadius: 0, tension: 0
  }));
  const a = p.inset;
  const small = { color: '#1a1a1a', font: { size: 7.5 } };
  new Chart(document.getElementById(p.insetCanvas), {
    type: 'line',
    data: { datasets },
    options: {
      responsive: false, animation: false, events: [],
      layout: { padding: { left: a.left - 20, top: a.top - 3, right: W - a.right - 3, bottom: H - a.bottom - 22 } },
      plugins: { legend: { display: false }, tooltip: { enabled: false } },
      scales: {
        x: {
          type: 'linear', position: 'bottom', min: 0, max: 15,
          afterBuildTicks: s => { s.ticks = insetTimeTicks.map(v => ({ value: v })); },
          afterFit: s => { s.height = 22; },
          grid: { display: false, tickLength: 2 }, border: { display: false },
          ticks: { ...small, padding: 1, maxRotation: 0, autoSkip: false, callback: v => String(v) }
        },
        xTop: {
          type: 'linear', axis: 'x', position: 'top', min: 0, max: 15,
          afterFit: s => { s.height = 3; },
          grid: { display: false }, border: { display: false }, ticks: { display: false }
        },
        y: {
          type: 'linear', position: 'left', min: 30, max: 110.5,
          afterBuildTicks: s => { s.ticks = insetPctTicks.map(v => ({ value: v })); },
          afterFit: s => { s.width = 20; },
          grid: { display: false, tickLength: 1 }, border: { display: false },
          ticks: { ...small, padding: 1, autoSkip: false, callback: v => String(v) }
        },
        yRight: {
          type: 'linear', axis: 'y', position: 'right', min: 30, max: 110.5,
          afterFit: s => { s.width = 3; },
          grid: { display: false }, border: { display: false }, ticks: { display: false }
        }
      }
    },
    plugins: [decorations({
      fill: true,
      insetTitles: true,
      ticks: [
        { scale: 'x', edge: 'bottom', major: insetTimeTicks, minor: range(0, 15, 1), len: [-3, -1.5] },
        { scale: 'x', edge: 'top', major: insetTimeTicks, minor: range(0, 15, 1), len: [-3, -1.5] },
        { scale: 'y', edge: 'left', major: insetPctTicks, minor: range(30, 110, 5), len: [2, -1.5] },
        { scale: 'yRight', edge: 'right', major: insetPctTicks, minor: range(30, 110, 2.5), len: [-3, -1.5] }
      ]
    })]
  });
}

/* ================================
   PANEL SETUP
================================ */
Chart.defaults.font.family = FONT;
Chart.defaults.color = '#1a1a1a';

const panels = [
  { canvas: 'cA', insetCanvas: 'iA', colors: blues,
    traces: [A024, A050, A100, A198, A408], fits: [fitA024, fitA050, fitA100, fitA198, fitA408],
    area: { left: 85, top: 14, right: 376, bottom: 452 }, inset: { left: 240, top: 346, right: 361, bottom: 427 },
    mmPer100: mmPer100.A, mmLabels: mmLabelsA, labelX: 41.2, labelY: labelYA,
    xLabels: false, yLabels: true, title: { letter: 'A.', sup: '+', sub: 'BH', dx: 7.7, dy: 16.7 } },
  { canvas: 'cB', insetCanvas: 'iB', colors: reds,
    traces: [B024, B050, B100, B198, B408], fits: [fitB024, fitB050, fitB100, fitB198, fitB408],
    area: { left: 409, top: 14, right: 699, bottom: 452 }, inset: { left: 563, top: 348, right: 683, bottom: 428 },
    mmPer100: mmPer100.B, mmLabels: mmLabelsB, labelX: 41.4, labelY: labelYB,
    xLabels: false, yLabels: false, title: { letter: 'B.', sup: '-', sub: 'RH', dx: 4.3, dy: 17 } },
  { canvas: 'cC', insetCanvas: 'iC', colors: blues,
    traces: [C024, C050, C100, C198, C408], fits: [fitC024, fitC050, fitC100, fitC198, fitC408],
    area: { left: 85, top: 482, right: 376, bottom: 920 }, inset: { left: 240, top: 807, right: 361, bottom: 888 },
    mmPer100: mmPer100.C, mmLabels: mmLabelsC, labelX: 41.2, labelY: labelYC,
    xLabels: true, yLabels: true, title: { letter: 'C.', sup: '-', sub: 'BL', dx: 9, dy: 19.5 } },
  { canvas: 'cD', insetCanvas: 'iD', colors: reds,
    traces: [D024, D050, D100, D198, D408], fits: [fitD024, fitD050, fitD100, fitD198, fitD408],
    area: { left: 409, top: 482, right: 699, bottom: 920 }, inset: { left: 560, top: 806, right: 681, bottom: 887 },
    mmPer100: mmPer100.D, mmLabels: mmLabelsD, labelX: 41.4, labelY: labelYD,
    xLabels: true, yLabels: false, title: { letter: 'D.', sup: '-', sub: 'RL', dx: 4.8, dy: 19 } }
];

panels.forEach(drawPanel);
panels.forEach(drawInset);
</script>
</body>
</html>
